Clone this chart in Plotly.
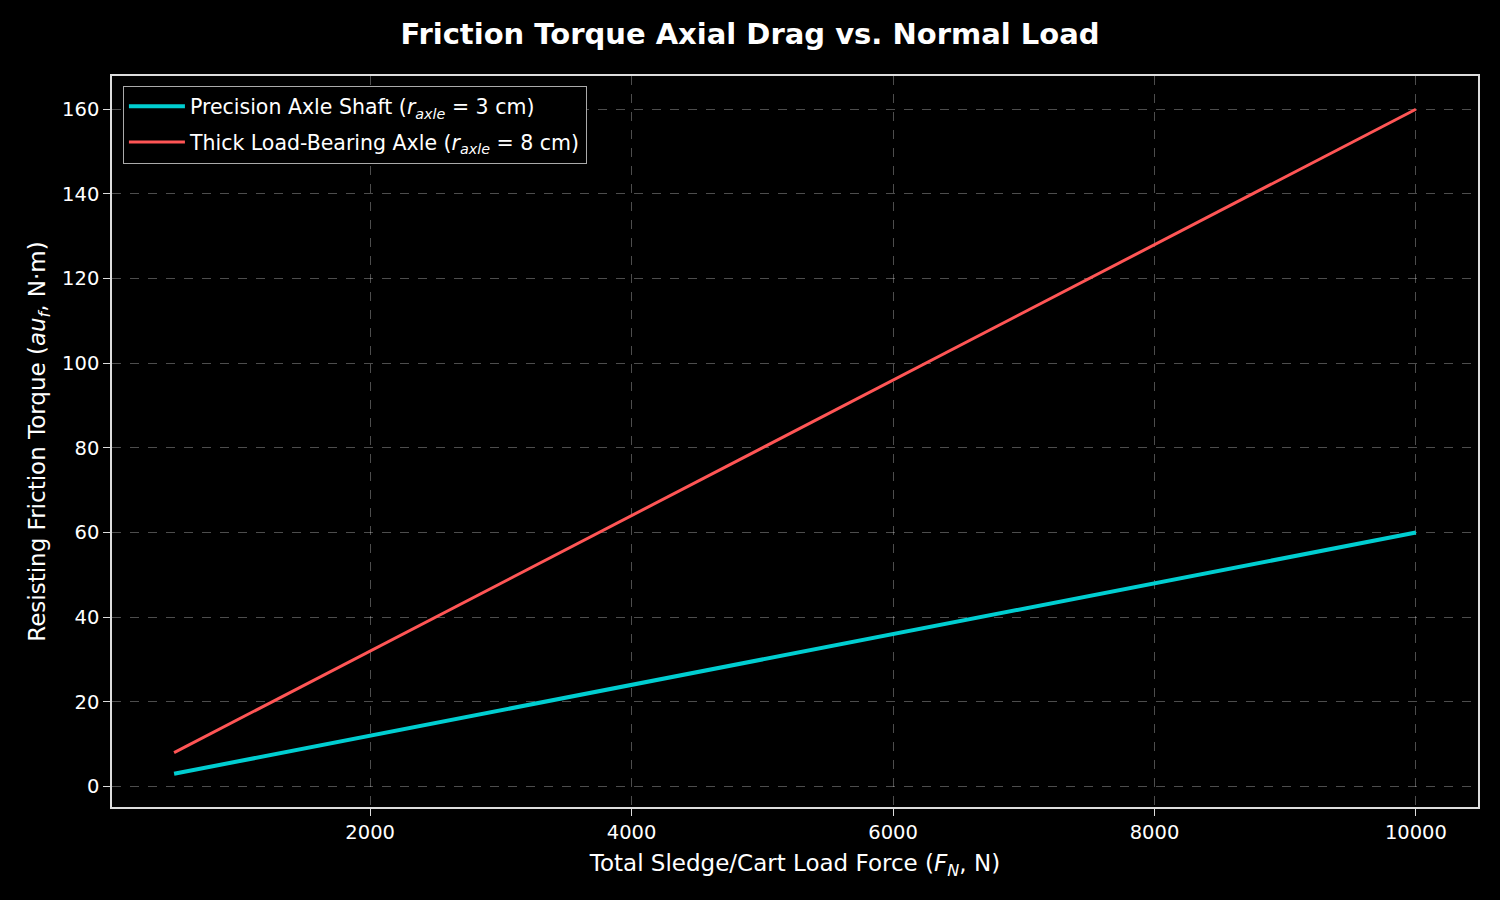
import plotly.graph_objects as go

load_force = [500, 2000, 4000, 6000, 8000, 10000]
torque_precision = [3, 12, 24, 36, 48, 60]
torque_thick = [8, 32, 64, 96, 128, 160]

x_ticks = [2000, 4000, 6000, 8000, 10000]
y_ticks = [0, 20, 40, 60, 80, 100, 120, 140, 160]

FONT = "DejaVu Sans"

fig = go.Figure()
fig.add_trace(go.Scatter(
    x=load_force, y=torque_precision, mode="lines",
    name="Precision Axle Shaft (<i>r</i><sub><i>axle</i></sub> = 3 cm)",
    line=dict(color="#00CED1", width=4), legendgroup="a",
))
fig.add_trace(go.Scatter(
    x=load_force, y=torque_thick, mode="lines",
    name="Thick Load-Bearing Axle (<i>r</i><sub><i>axle</i></sub> = 8 cm)",
    line=dict(color="#FF5555", width=3), legendgroup="b",
))

grid = "rgba(255,255,255,0.3)"
fig.update_layout(
    width=1500, height=900,
    paper_bgcolor="black", plot_bgcolor="black",
    font=dict(family=FONT, color="white", size=19.5),
    margin=dict(l=112, r=22, t=76, b=93),
    title=dict(text="<b>Friction Torque Axial Drag vs. Normal Load</b>",
               x=0.5, xanchor="center", y=1 - 34 / 900, yanchor="middle",
               font=dict(size=29, family=FONT, color="white")),
    showlegend=True,
    legend=dict(x=0.008, y=0.987, xanchor="left", yanchor="top",
                bgcolor="black", bordercolor="#aaaaaa", borderwidth=1,
                font=dict(size=20.5, color="white"), tracegroupgap=6,
                itemwidth=56),
)
fig.update_xaxes(
    range=[25, 10475], tickvals=x_ticks, ticktext=[str(v) for v in x_ticks],
    title=dict(text="Total Sledge/Cart Load Force (<i>F</i><sub><i>N</i></sub>, N)",
               font=dict(size=23), standoff=12),
    showgrid=True, gridcolor=grid, griddash="dash", gridwidth=1,
    showline=True, linecolor="#dddddd", linewidth=1.5, mirror=True,
    ticks="outside", tickcolor="#dddddd", ticklen=7, zeroline=False,
)
fig.update_yaxes(
    range=[-4.85, 167.85], tickvals=y_ticks, ticktext=[str(v) for v in y_ticks],
    title=dict(text="Resisting Friction Torque (<i>au</i><sub><i>f</i></sub>, N·m)",
               font=dict(size=23), standoff=10),
    showgrid=True, gridcolor=grid, griddash="dash", gridwidth=1,
    showline=True, linecolor="#dddddd", linewidth=1.5, mirror=True,
    ticks="outside", tickcolor="#dddddd", ticklen=7, zeroline=False,
)
fig.write_html("out.html")
